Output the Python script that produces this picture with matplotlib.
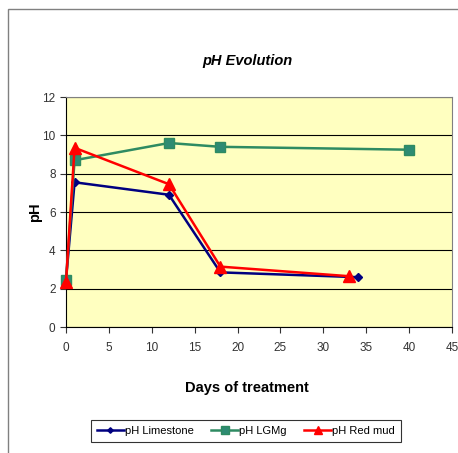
import matplotlib
matplotlib.use("Agg")
import matplotlib.pyplot as plt
from matplotlib.patches import Rectangle

plt.rcParams['font.family'] = ['Liberation Sans', 'DejaVu Sans']

days_limestone = [0, 1, 12, 18, 34]
ph_limestone = [2.45, 7.55, 6.9, 2.85, 2.6]
days_lgmg = [0, 1, 12, 18, 40]
ph_lgmg = [2.45, 8.7, 9.6, 9.4, 9.25]
days_redmud = [0, 1, 12, 18, 33]
ph_redmud = [2.35, 9.35, 7.45, 3.15, 2.65]
series_labels = ["pH Limestone", "pH LGMg", "pH Red mud"]

fig = plt.figure(figsize=(4.58, 4.53), dpi=100)

# outer chart frame
fig.add_artist(Rectangle((8/458, -0.05), 1.0, 1 - 9/453 + 0.05, transform=fig.transFigure,
                         fill=False, edgecolor='#808080', linewidth=1.0))

ax = fig.add_axes([66/458, 126/453, 386/458, 230/453])
ax.set_facecolor('#FFFFC0')

ax.plot(days_limestone, ph_limestone, color='#000080', marker='D', markersize=4,
        linewidth=1.8, label=series_labels[0], zorder=3, clip_on=False)
ax.plot(days_lgmg, ph_lgmg, color='#2E8B62', marker='s', markersize=7.5,
        markerfacecolor='#2E8B73', linewidth=1.8, label=series_labels[1], zorder=3,
        clip_on=False)
ax.plot(days_redmud, ph_redmud, color='#FF0000', marker='^', markersize=8.5,
        linewidth=1.8, label=series_labels[2], zorder=4, clip_on=False)

ax.set_xlim(0, 45)
ax.set_ylim(0, 12)
ax.set_xticks(range(0, 46, 5))
ax.set_yticks(range(0, 13, 2))
ax.yaxis.grid(True, color='black', linewidth=0.8)
ax.set_axisbelow(True)
for s in ax.spines.values():
    s.set_color('#808080')
ax.spines['left'].set_color('black')
ax.spines['bottom'].set_color('black')
ax.tick_params(axis='both', direction='out', length=4, labelsize=8.5, colors='#333333')
ax.tick_params(axis='x', pad=7)

# title and x label are centred on the whole chart frame rather than the plot area
cx = (247 - 66) / 386
ax.set_title("pH Evolution", fontsize=10.5, fontweight='bold', fontstyle='italic',
             pad=23, x=cx)
ax.set_xlabel("Days of treatment", fontsize=10.5, fontweight='bold')
ax.xaxis.set_label_coords(cx, -54/230)
ax.set_ylabel("pH", fontsize=10.5, fontweight='bold')
ax.yaxis.set_label_coords(-24/386, 0.5)

leg = fig.legend(loc='center', bbox_to_anchor=(246/458, 1 - 431/453), ncol=3,
                 fontsize=8, frameon=True, fancybox=False, edgecolor='black',
                 handlelength=2.4, columnspacing=1.6, handletextpad=0.1,
                 borderpad=0.55, markerscale=0.7)
leg.get_frame().set_linewidth(0.8)

fig.savefig("out.png", dpi=100)
